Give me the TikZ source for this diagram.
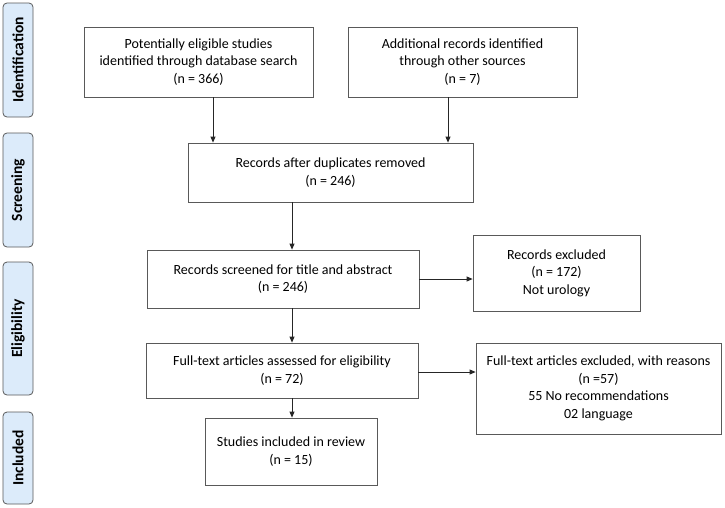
\documentclass[tikz,border=0pt]{standalone}
\usepackage{fontspec}
\setmainfont{Carlito}
\usetikzlibrary{arrows.meta}
\definecolor{edgegrey}{HTML}{595959}
\definecolor{sidefill}{HTML}{DCEBFA}
\begin{document}
\begin{tikzpicture}[x=1pt,y=-1pt,
  box/.style={draw=edgegrey, line width=0.8pt, fill=white, align=center, inner sep=0pt,
    font=\fontsize{14}{17.5}\selectfont},
  side/.style={draw=edgegrey, line width=0.8pt, fill=sidefill, rounded corners=4pt,
    minimum width=30pt, inner sep=0pt},
  sidetext/.style={rotate=90, font=\fontsize{15.5}{18}\selectfont\bfseries},
  arr/.style={draw=black!85, line width=0.8pt, -{Triangle[length=6pt,width=5pt]}}]
\useasboundingbox (0,0) rectangle (725,507);
% side labels
\node[side, minimum height=114pt] (s1) at (18,60) {};
\node[sidetext] (t1) at (s1.center) {Identification};
\node[side, minimum height=114pt] (s2) at (18,190) {};
\node[sidetext] (t2) at (s2.center) {Screening};
\node[side, minimum height=133pt] (s3) at (18,328.5) {};
\node[sidetext] (t3) at (s3.center) {Eligibility};
\node[side, minimum height=92pt] (s4) at (18,458) {};
\node[sidetext] (t4) at (s4.center) {Included};
% boxes
\node[box, minimum width=229pt, minimum height=70pt] (b1) at (198.5,62)
  {Potentially eligible studies\\identified through database search\\(n = 366)};
\node[box, minimum width=229pt, minimum height=70pt] (b2) at (462.5,62)
  {Additional records identified\\through other sources\\(n = 7)};
\node[box, minimum width=285pt, minimum height=59pt] (b3) at (330.5,172.5)
  {Records after duplicates removed\\(n = 246)};
\node[box, minimum width=272pt, minimum height=58pt] (b4) at (283,279)
  {Records screened for title and abstract\\(n = 246)};
\node[box, minimum width=167pt, minimum height=76pt] (b7) at (556.5,273)
  {Records excluded\\(n = 172)\\Not urology};
\node[box, minimum width=272pt, minimum height=55pt] (b5) at (282,370.5)
  {Full-text articles assessed for eligibility\\(n = 72)};
\node[box, minimum width=245pt, minimum height=91pt] (b8) at (598.5,388.5)
  {Full-text articles excluded, with reasons\\(n =57)\\55 No recommendations\\02 language};
\node[box, minimum width=172pt, minimum height=67pt] (b6) at (291,451.5)
  {Studies included in review\\(n = 15)};
% connector anchors
\coordinate (a1) at (213,0);
\coordinate (a2) at (448,0);
\coordinate (a3) at (292,0);
\coordinate (h1) at (0,279);
\coordinate (h2) at (0,372);
% connectors
\draw[arr] (b1.south -| a1) -- (b3.north -| a1);
\draw[arr] (b2.south -| a2) -- (b3.north -| a2);
\draw[arr] (b3.south -| a3) -- (b4.north -| a3);
\draw[arr] (b4.south -| a3) -- (b5.north -| a3);
\draw[arr] (b5.south -| a3) -- (b6.north -| a3);
\draw[arr] (b4.east |- h1) -- (b7.west |- h1);
\draw[arr] (b5.east |- h2) -- (b8.west |- h2);
\end{tikzpicture}
\end{document}
